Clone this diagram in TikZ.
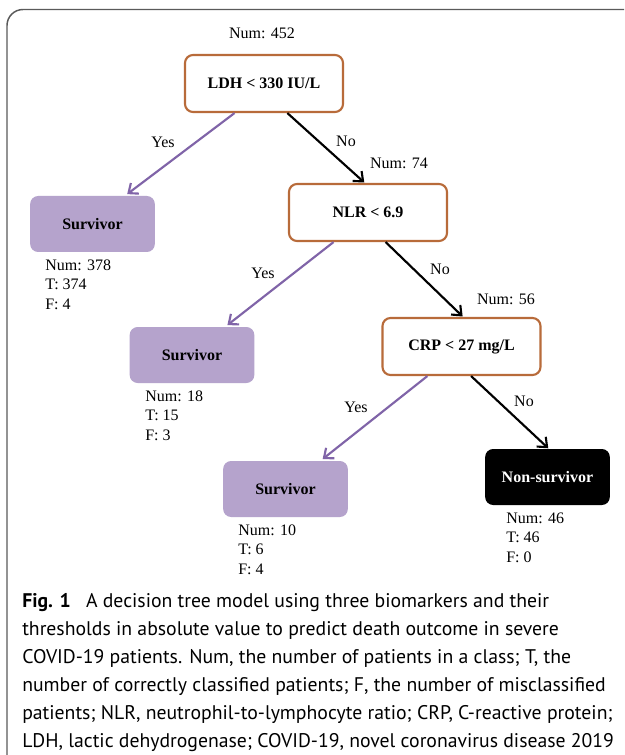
\documentclass[tikz,border=0pt]{standalone}
\usepackage{fontspec}
\setmainfont{Liberation Serif}
\newfontfamily\capfont{PT Sans}
\usetikzlibrary{arrows.meta,calc}
\definecolor{boxorange}{HTML}{B86B3A}
\definecolor{arrowpurple}{HTML}{8064A8}
\definecolor{leaflav}{HTML}{B5A3CC}
\definecolor{framegray}{HTML}{5A5A5A}
\tikzset{
  splitbox/.style={draw=boxorange, line width=1.6pt, rounded corners=6pt, fill=white,
    minimum width=118.5pt, minimum height=42.75pt, font=\fontsize{12}{14}\selectfont\bfseries, inner sep=0pt},
  leafbox/.style={fill=leaflav, rounded corners=6pt, minimum width=93.5pt, minimum height=42pt,
    font=\fontsize{12}{14}\selectfont\bfseries, inner sep=0pt},
  deadbox/.style={fill=black, text=white, rounded corners=6pt, minimum width=93.5pt, minimum height=42pt,
    font=\fontsize{12}{14}\selectfont\bfseries, inner sep=0pt},
  lbl/.style={font=\fontsize{12}{14}\selectfont, inner sep=0pt},
  stats/.style={font=\fontsize{12}{14.5}\selectfont, align=left, anchor=north west, inner sep=0pt},
  yesarrow/.style={draw=arrowpurple, line width=1.6pt, -{Straight Barb[length=6pt,width=10pt,line width=1.6pt]}, shorten >=2pt},
  noarrow/.style={draw=black, line width=1.6pt, -{Straight Barb[length=6pt,width=10pt,line width=1.6pt]}, shorten >=0.5pt},
}
\begin{document}
\begin{tikzpicture}[x=0.75pt,y=-0.75pt]
\useasboundingbox (0,0) rectangle (624,755);
\clip (0,0) rectangle (624,755);
\fill[white] (0,0) rectangle (624,755);
\draw[framegray, line width=1.1pt, rounded corners=12pt] (7,9.5) rectangle (660,790);

% nodes
\node[lbl] (n452) at (262,33) {Num: 452};
\node[splitbox] (ldh) at (264,83.5) {LDH < 330 IU/L\hspace{7pt}};
\node[leafbox] (s1) at (92.5,224) {Survivor\hspace{5pt}};
\node[splitbox] (nlr) at (368,212.5) {NLR < 6.9\hspace{10pt}};
\node[leafbox] (s2) at (192,355) {Survivor\hspace{3pt}};
\node[splitbox] (crp) at (461.5,346.5) {CRP < 27 mg/L};
\node[leafbox] (s3) at (285.5,489) {Survivor\hspace{5pt}};
\node[deadbox] (ns) at (547.5,477) {Non-survivor};

% edges
\draw[yesarrow] ($(ldh.south west)!0.316!(ldh.south east)$) -- ($(s1.north west)!0.76!(s1.north east)$);
\draw[noarrow] ($(ldh.south west)!0.646!(ldh.south east)$) -- ($(nlr.north west)!0.48!(nlr.north east)$);
\draw[yesarrow] ($(nlr.south west)!0.285!(nlr.south east)$) -- ($(s2.north west)!0.766!(s2.north east)$);
\draw[noarrow] ($(nlr.south west)!0.61!(nlr.south east)$) -- ($(crp.north west)!0.51!(crp.north east)$);
\draw[yesarrow] ($(crp.south west)!0.287!(crp.south east)$) -- ($(s3.north west)!0.78!(s3.north east)$);
\draw[noarrow] ($(crp.south west)!0.56!(crp.south east)$) -- ($(ns.north west)!0.51!(ns.north east)$);

% edge labels
\node[lbl] (y1) at (163,142) {Yes};
\node[lbl] (no1) at (346,141) {No};
\node[lbl] (n74) at (399,163) {Num: 74};
\node[lbl] (y2) at (263,273) {Yes};
\node[lbl] (no2) at (440,269) {No};
\node[lbl] (n56) at (506,299) {Num: 56};
\node[lbl] (y3) at (356,407) {Yes};
\node[lbl] (no3) at (524,401) {No};

% stats
\node[stats] (st1) at (45,259.5) {Num: 378\\T: 374\\F: 4};
\node[stats] (st2) at (145,390.5) {Num: 18\\T: 15\\F: 3};
\node[stats] (st3) at (238,524.5) {Num: 10\\T: 6\\F: 4};
\node[stats] (st4) at (506,512.5) {Num: 46\\T: 46\\F: 0};

% caption
\node[anchor=north west, inner sep=0pt, align=left, font=\capfont\fontsize{14.8}{21}\selectfont] (cap) at (22,593)
{\textbf{Fig. 1}\hspace{0.5em} A decision tree model using three biomarkers and their\\
thresholds in absolute value to predict death outcome in severe\\
COVID-19 patients. Num, the number of patients in a class; T, the\\
number of correctly classified patients; F, the number of misclassified\\
patients; NLR, neutrophil-to-lymphocyte ratio; CRP, C-reactive protein;\\
LDH, lactic dehydrogenase; COVID-19, novel coronavirus disease 2019};
\end{tikzpicture}
\end{document}
